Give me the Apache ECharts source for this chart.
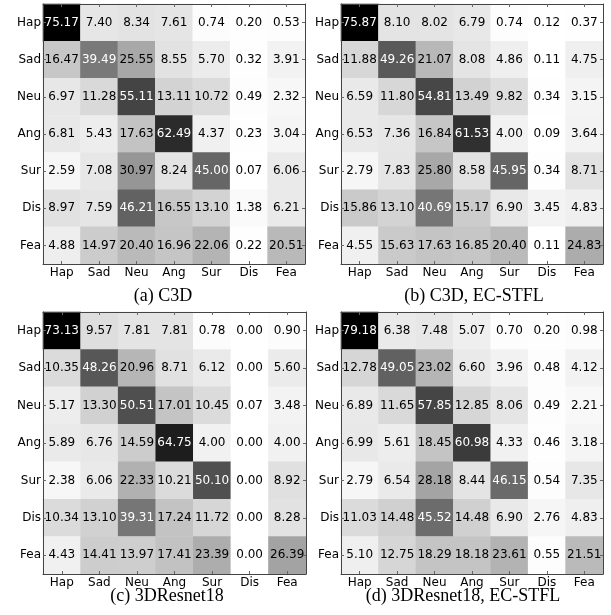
<!DOCTYPE html>
<html>
<head>
<meta charset="utf-8">
<script src="https://cdn.jsdelivr.net/npm/echarts@6/dist/echarts.min.js"></script>
<style>
html,body{margin:0;padding:0;background:#fff;}
#chart{width:611px;height:615px;}
</style>
</head>
<body>
<div id="chart"></div>
<script>
var classes = ['Hap', 'Sad', 'Neu', 'Ang', 'Sur', 'Dis', 'Fea'];

var matA = [
  [75.17, 7.40, 8.34, 7.61, 0.74, 0.20, 0.53],
  [16.47, 39.49, 25.55, 8.55, 5.70, 0.32, 3.91],
  [6.97, 11.28, 55.11, 13.11, 10.72, 0.49, 2.32],
  [6.81, 5.43, 17.63, 62.49, 4.37, 0.23, 3.04],
  [2.59, 7.08, 30.97, 8.24, 45.00, 0.07, 6.06],
  [8.97, 7.59, 46.21, 16.55, 13.10, 1.38, 6.21],
  [4.88, 14.97, 20.40, 16.96, 22.06, 0.22, 20.51]
];
var matB = [
  [75.87, 8.10, 8.02, 6.79, 0.74, 0.12, 0.37],
  [11.88, 49.26, 21.07, 8.08, 4.86, 0.11, 4.75],
  [6.59, 11.80, 54.81, 13.49, 9.82, 0.34, 3.15],
  [6.53, 7.36, 16.84, 61.53, 4.00, 0.09, 3.64],
  [2.79, 7.83, 25.80, 8.58, 45.95, 0.34, 8.71],
  [15.86, 13.10, 40.69, 15.17, 6.90, 3.45, 4.83],
  [4.55, 15.63, 17.63, 16.85, 20.40, 0.11, 24.83]
];
var matC = [
  [73.13, 9.57, 7.81, 7.81, 0.78, 0.00, 0.90],
  [10.35, 48.26, 20.96, 8.71, 6.12, 0.00, 5.60],
  [5.17, 13.30, 50.51, 17.01, 10.45, 0.07, 3.48],
  [5.89, 6.76, 14.59, 64.75, 4.00, 0.00, 4.00],
  [2.38, 6.06, 22.33, 10.21, 50.10, 0.00, 8.92],
  [10.34, 13.10, 39.31, 17.24, 11.72, 0.00, 8.28],
  [4.43, 14.41, 13.97, 17.41, 23.39, 0.00, 26.39]
];
var matD = [
  [79.18, 6.38, 7.48, 5.07, 0.70, 0.20, 0.98],
  [12.78, 49.05, 23.02, 6.60, 3.96, 0.48, 4.12],
  [6.89, 11.65, 57.85, 12.85, 8.06, 0.49, 2.21],
  [6.99, 5.61, 18.45, 60.98, 4.33, 0.46, 3.18],
  [2.79, 6.54, 28.18, 8.44, 46.15, 0.54, 7.35],
  [11.03, 14.48, 45.52, 14.48, 6.90, 2.76, 4.83],
  [5.10, 12.75, 18.29, 18.18, 23.61, 0.55, 21.51]
];
var captions = ['(a) C3D', '(b) C3D, EC-STFL', '(c) 3DResnet18', '(d) 3DResnet18, EC-STFL'];

var mats = [matA, matB, matC, matD];
var grids = [
  {left: 43, top: 4, width: 262, height: 260},
  {left: 341, top: 4, width: 262, height: 260},
  {left: 43, top: 312, width: 263, height: 262},
  {left: 341, top: 312, width: 262, height: 262}
];
var capPos = [{x: 163, y: 287}, {x: 474, y: 287}, {x: 167, y: 587}, {x: 463, y: 587}];

var FONT = 'DejaVu Sans';
var xAxes = [], yAxes = [], series = [], visualMaps = [], titles = [];

mats.forEach(function (m, gi) {
  var mx = 0;
  m.forEach(function (r) { r.forEach(function (v) { if (v > mx) mx = v; }); });
  var data = [];
  m.forEach(function (r, ri) {
    r.forEach(function (v, ci) {
      data.push({
        value: [ci, ri, v],
        label: {color: v > mx / 2 ? '#ffffff' : '#000000'}
      });
    });
  });
  var lineStyle = {color: '#444', width: 1};
  xAxes.push({
    type: 'category', data: classes, gridIndex: gi, position: 'bottom',
    axisLine: {show: true, lineStyle: lineStyle},
    axisTick: {show: true, inside: true, length: 3, alignWithLabel: true, lineStyle: {color: '#666'}},
    axisLabel: {fontFamily: FONT, fontSize: 12, color: '#000', margin: 3},
    splitLine: {show: false}, z: 5
  });
  xAxes.push({
    type: 'category', data: classes, gridIndex: gi, position: 'top',
    axisLine: {show: true, lineStyle: lineStyle},
    axisTick: {show: true, inside: true, length: 3, alignWithLabel: true, lineStyle: {color: '#666'}},
    axisLabel: {show: false}, splitLine: {show: false}, z: 5
  });
  yAxes.push({
    type: 'category', data: classes, gridIndex: gi, inverse: true, position: 'left',
    axisLine: {show: true, lineStyle: lineStyle},
    axisTick: {show: true, inside: true, length: 3, alignWithLabel: true, lineStyle: {color: '#666'}},
    axisLabel: {fontFamily: FONT, fontSize: 12, color: '#000', margin: 2},
    splitLine: {show: false}, z: 5
  });
  yAxes.push({
    type: 'category', data: classes, gridIndex: gi, inverse: true, position: 'right',
    axisLine: {show: true, lineStyle: lineStyle},
    axisTick: {show: true, inside: true, length: 3, alignWithLabel: true, lineStyle: {color: '#666'}},
    axisLabel: {show: false}, splitLine: {show: false}, z: 5
  });
  series.push({
    type: 'heatmap', xAxisIndex: gi * 2, yAxisIndex: gi * 2, data: data,
    label: {show: true, fontFamily: FONT, fontSize: 12,
      formatter: function (p) { return p.value[2].toFixed(2); }},
    itemStyle: {borderWidth: 0},
    emphasis: {disabled: true}
  });
  visualMaps.push({
    type: 'continuous', show: false, seriesIndex: gi, dimension: 2,
    min: 0, max: mx, inRange: {color: ['#ffffff', '#000000']}
  });
  titles.push({
    text: captions[gi], left: capPos[gi].x, top: capPos[gi].y, textAlign: 'center',
    padding: 0,
    textStyle: {fontFamily: 'Liberation Serif', fontSize: 18, fontWeight: 'normal', color: '#000'}
  });
});

var chart = echarts.init(document.getElementById('chart'), null, {renderer: 'canvas'});
chart.setOption({
  animation: false,
  backgroundColor: '#ffffff',
  title: titles,
  grid: grids,
  xAxis: xAxes,
  yAxis: yAxes,
  visualMap: visualMaps,
  series: series
});
</script>
</body>
</html>
